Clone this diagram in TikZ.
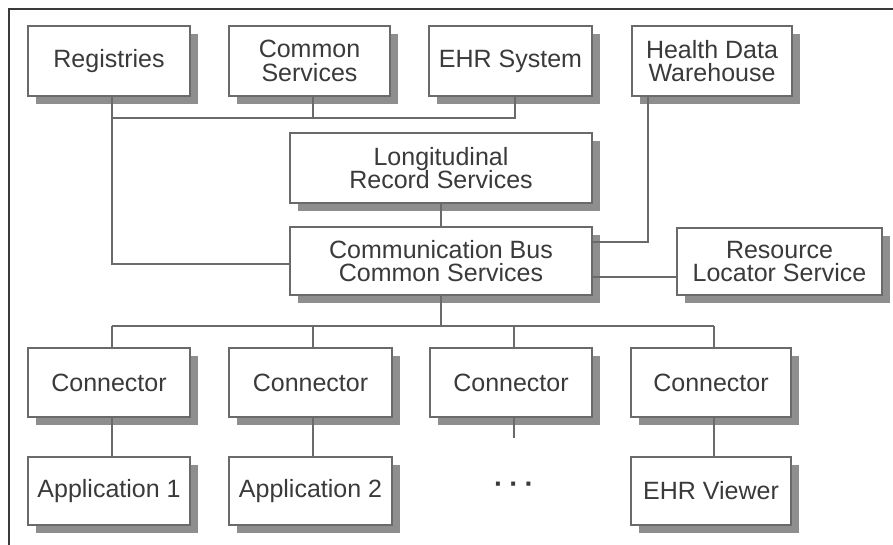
\documentclass[tikz,border=0pt]{standalone}
\usepackage{fontspec}
\setmainfont{Liberation Sans}
\usetikzlibrary{shadows}
\definecolor{inkgray}{HTML}{3A3A3A}
\definecolor{edgegray}{HTML}{6A6A6A}
\definecolor{shadegray}{HTML}{8E8E8E}
\tikzset{
  blk/.style={draw=edgegray, line width=1.4pt, fill=white, rectangle,
    text=inkgray, align=center, inner sep=0pt,
    font=\fontsize{25}{23.5}\selectfont,
    drop shadow={shadow xshift=8pt, shadow yshift=-8pt, fill=shadegray, opacity=1}},
  wire/.style={draw=edgegray, line width=1.4pt}
}
\begin{document}
\begin{tikzpicture}[x=1pt,y=-1pt]
\useasboundingbox (0,0) rectangle (893,545);
% page frame (top and left edges)
\draw[line width=1.3pt, inkgray] (893,9) -- (9,9) -- (9,545);

% top row
\node[blk, minimum width=162pt, minimum height=70pt] (reg) at (109,61) {Registries};
\node[blk, minimum width=161pt, minimum height=70pt] (cs) at (309.5,61) {Common\\Services};
\node[blk, minimum width=163pt, minimum height=70pt] (ehr) at (510.5,61) {EHR System};
\node[blk, minimum width=160pt, minimum height=70pt] (hdw) at (712,61) {Health Data\\Warehouse};

% middle
\node[blk, minimum width=302pt, minimum height=70pt] (lrs) at (441,168) {Longitudinal\\Record Services};
\node[blk, minimum width=302pt, minimum height=68pt] (cb) at (441,261) {Communication Bus\\Common Services};
\node[blk, minimum width=205pt, minimum height=67pt] (rls) at (779.5,261.5) {Resource\\Locator Service};

% connectors
\node[blk, minimum width=162pt, minimum height=69pt] (con1) at (109,382.5) {Connector};
\node[blk, minimum width=163pt, minimum height=69pt] (con2) at (310.5,382.5) {Connector};
\node[blk, minimum width=162pt, minimum height=69pt] (con3) at (511,382.5) {Connector};
\node[blk, minimum width=160pt, minimum height=69pt] (con4) at (711,382.5) {Connector};

% applications
\node[blk, minimum width=162pt, minimum height=68pt] (app1) at (109,491) {Application 1};
\node[blk, minimum width=163pt, minimum height=68pt] (app2) at (310.5,491) {Application 2};
\node[text=inkgray, inner sep=0pt, font=\fontsize{28}{28}\selectfont\bfseries] (dots) at (514,488) {·\hspace{6pt}·\hspace{6pt}·};
\node[blk, minimum width=160pt, minimum height=68pt] (ehrv) at (711,491) {EHR Viewer};

% wiring points
\coordinate (tb) at (0,118);
\coordinate (lb) at (0,326);
\coordinate (r1) at ([xshift=3pt]reg.south);
\coordinate (c1) at ([xshift=3.5pt]cs.south);
\coordinate (e1) at ([xshift=4.5pt]ehr.south);
\coordinate (h1) at ([xshift=-64pt]hdw.south);
\coordinate (k1) at ([xshift=3pt]con1.south);
\coordinate (k2) at ([xshift=2.5pt]con2.south);
\coordinate (k3) at ([xshift=3pt]con3.south);
\coordinate (k4) at ([xshift=3pt]con4.south);
\coordinate (stub) at (k3 |- 0,438);

% upper bus
\draw[wire] (r1 |- tb) -| (e1);
\draw[wire] (c1) -- (c1 |- tb);
\draw[wire] (r1) |- ([yshift=-3pt]cb.west);
\draw[wire] (lrs.south) -- (lrs.south |- cb.north);
\draw[wire] (h1) |- (cb.east |- 0,242);
\draw[wire] (cb.east |- 0,277) -- (rls.west |- 0,277);

% lower bus
\draw[wire] (cb.south) -- (cb.south |- lb);
\draw[wire] (k1 |- lb) -- (k4 |- lb);
\draw[wire] (k1 |- lb) -- (k1 |- con1.north);
\draw[wire] (k2 |- lb) -- (k2 |- con2.north);
\draw[wire] (k3 |- lb) -- (k3 |- con3.north);
\draw[wire] (k4 |- lb) -- (k4 |- con4.north);

% connector to application
\draw[wire] (k1) -- (k1 |- app1.north);
\draw[wire] (k2) -- (k2 |- app2.north);
\draw[wire] (k3) -- (stub);
\draw[wire] (k4) -- (k4 |- ehrv.north);
\end{tikzpicture}
\end{document}
